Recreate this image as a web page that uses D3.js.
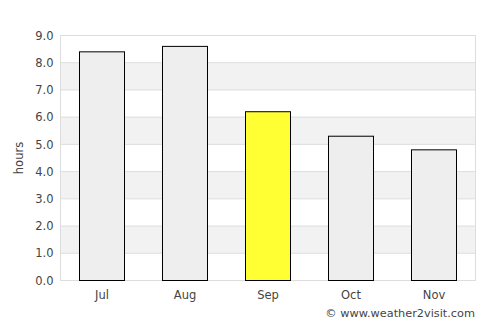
<!DOCTYPE html>
<html><head><meta charset="utf-8">
<script src="https://cdn.jsdelivr.net/npm/d3@7"></script>
<style>body{margin:0;background:#fff;}svg{display:block;font-family:"DejaVu Sans",sans-serif;}</style>
</head><body><svg id="c" width="500" height="325"></svg>
<script>
const months = ["Jul","Aug","Sep","Oct","Nov"];
const hours = [8.4, 8.6, 6.2, 5.3, 4.8];
const highlight = "Sep";
const yTicks = [0,1,2,3,4,5,6,7,8,9];

const svg = d3.select("#c");
const L = 60.5, R = 475.5, T = 35.5, B = 280.5;
const x = d3.scaleBand().domain(months).range([L, R]).paddingInner(0.458).paddingOuter(0.229);
const y = d3.scaleLinear().domain([0, 9]).range([B, T]);

// bands
svg.append("g").selectAll("rect").data(yTicks.slice(0,-1).filter(d => d % 2 === 1))
  .join("rect").attr("x", L).attr("width", R - L)
  .attr("y", d => y(d + 1)).attr("height", d => y(d) - y(d + 1)).attr("fill", "#f2f2f2");
// grid lines
svg.append("g").selectAll("line").data(yTicks).join("line")
  .attr("x1", L).attr("x2", R).attr("y1", d => y(d)).attr("y2", d => y(d))
  .attr("stroke", "#dddddd").attr("stroke-width", 1);
// frame sides
svg.append("line").attr("x1", L).attr("x2", L).attr("y1", T).attr("y2", B).attr("stroke", "#dddddd");
svg.append("line").attr("x1", R).attr("x2", R).attr("y1", T).attr("y2", B).attr("stroke", "#dddddd");

// bars
svg.append("g").selectAll("rect").data(months).join("rect")
  .attr("x", d => Math.floor(x(d)) + 0.5)
  .attr("width", Math.round(x.bandwidth()))
  .attr("y", (d, i) => y(hours[i]))
  .attr("height", (d, i) => B - y(hours[i]))
  .attr("fill", d => d === highlight ? "#ffff33" : "#eeeeee")
  .attr("stroke", "#000").attr("stroke-width", 1);

// y axis labels
const ya = d3.axisLeft(y).tickValues(yTicks).tickFormat(d3.format(".1f")).tickSize(0).tickPadding(6);
const gy = svg.append("g").attr("transform", `translate(${L - 1},0)`).call(ya);
gy.select(".domain").remove();
gy.selectAll("text").attr("font-size", 11.5).attr("fill", "#444").attr("font-family", "DejaVu Sans");

// x axis labels
const xa = d3.axisBottom(x).tickSize(0).tickPadding(10);
const gx = svg.append("g").attr("transform", `translate(0,${B})`).call(xa);
gx.select(".domain").remove();
gx.selectAll("text").attr("font-size", 11.5).attr("fill", "#444").attr("font-family", "DejaVu Sans");

// y title
svg.append("text").attr("transform", "translate(23,158) rotate(-90)")
  .attr("text-anchor", "middle").attr("font-size", 11.5).attr("fill", "#444").text("hours");

// credit
svg.append("text").attr("x", 475).attr("y", 317).attr("text-anchor", "end")
  .attr("font-size", 11.3).attr("fill", "#444").text("© www.weather2visit.com");
</script></body></html>
